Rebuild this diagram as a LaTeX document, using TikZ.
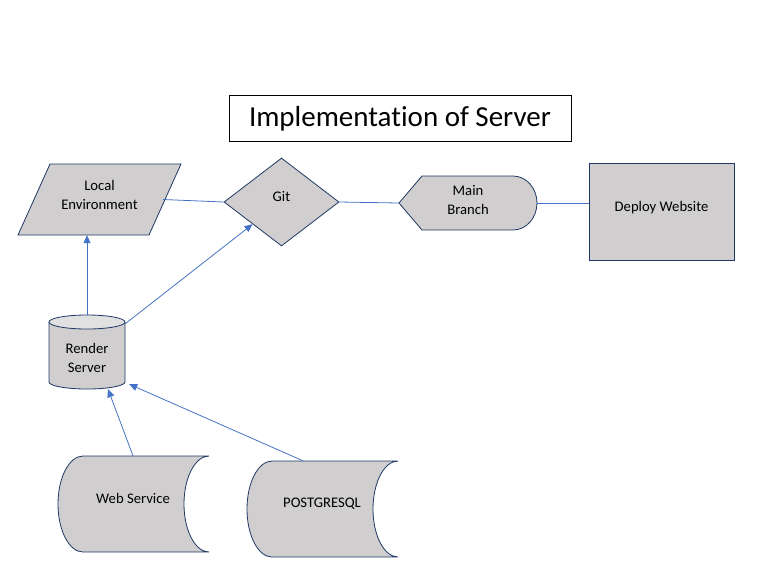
\documentclass[tikz,border=0pt]{standalone}
\usepackage{fontspec}
\setmainfont{Carlito}[Ligatures=NoCommon]
\usetikzlibrary{arrows.meta,shapes.geometric}
\definecolor{shape_gray}{RGB}{208,206,206}
\definecolor{shape_top}{RGB}{226,225,225}
\definecolor{edge_navy}{RGB}{31,56,100}
\definecolor{link_blue}{RGB}{68,114,196}

\begin{document}
\begin{tikzpicture}[x=1pt,y=-1pt,>={Triangle[length=8pt,width=7pt]}]
    \tikzstyle{txt}=[text=black,font=\fontsize{14.67}{19}\selectfont,align=center,inner sep=0pt]
    \tikzstyle{outline}=[draw=edge_navy,fill=shape_gray,line width=0.8pt]
    \tikzstyle{holder}=[inner sep=0pt]
    \tikzstyle{link}=[every edge/.style={draw=link_blue,line width=0.8pt}]
    \useasboundingbox (0,0) rectangle (778,582);

    \node[draw=black,line width=0.8pt,minimum width=342,minimum height=46,inner sep=0pt,font=\fontsize{29}{35}\selectfont] (title) at (400,118.5) {Implementation of Server};

    % local side
    \draw[outline] (50,164) -- (181,164) -- (149,235) -- (18,235) -- cycle;
    \node[holder,minimum width=163,minimum height=71,label={[txt,yshift=5pt]center:Local\\Environment}] (env) at (99.5,199.5) {};
    \node[outline,shape=diamond,minimum width=115,minimum height=88,inner sep=0pt,label={[txt,yshift=5.5pt]center:Git}] (git) at (281.5,202) {};

    % deploy side
    \draw[outline] (399,203) -- (422,176) -- (513,176) arc[start angle=270,end angle=450,x radius=24,y radius=27] -- (422,230) -- cycle;
    \node[holder,minimum width=138,minimum height=54,label={[txt,yshift=3pt]center:Main\\Branch}] (mb) at (468,203) {};
    \node[outline,minimum width=145,minimum height=97,inner sep=0pt,label={[txt,yshift=4pt]center:Deploy Website}] (dw) at (661.5,211.5) {};

    % server
    \draw[outline] (49,322) -- (49,382) arc[start angle=180,end angle=0,x radius=38,y radius=7] -- (125,322);
    \draw[outline,fill=shape_top] (87,322) ellipse[x radius=38,y radius=7];
    \node[holder,minimum width=76,minimum height=74,label={[txt,yshift=-5.5pt]center:Render\\Server}] (rs) at (87,352) {};

    % stored data
    \draw[outline] (83,456) -- (209,456) arc[start angle=270,end angle=90,x radius=25,y radius=48] -- (83,552) arc[start angle=90,end angle=270,x radius=25,y radius=48] -- cycle;
    \node[holder,minimum width=152,minimum height=96,label={[txt,yshift=6pt]center:Web Service}] (ws) at (133,504) {};
    \draw[outline] (272,461) -- (398,461) arc[start angle=270,end angle=90,x radius=25,y radius=48] -- (272,557) arc[start angle=90,end angle=270,x radius=25,y radius=48] -- cycle;
    \node[holder,minimum width=152,minimum height=96,label={[txt,yshift=5pt]center:POSTGRESQL}] (pg) at (322,509) {};

    \path[link]
     ([xshift=-18pt]env.east) edge (git.west)
     (git.east) edge (mb.west)
     (mb.east) edge (mb.east -| dw.west)
     (rs.north) edge[->] (rs.north |- env.south)
     ([yshift=-9pt]rs.north east) edge[->] (git.south west)
     (ws.north) edge[->] ([xshift=21pt]rs.south)
     ([xshift=-19pt]pg.north) edge[->] ([xshift=4pt,yshift=5pt]rs.south east);
\end{tikzpicture}
\end{document}
